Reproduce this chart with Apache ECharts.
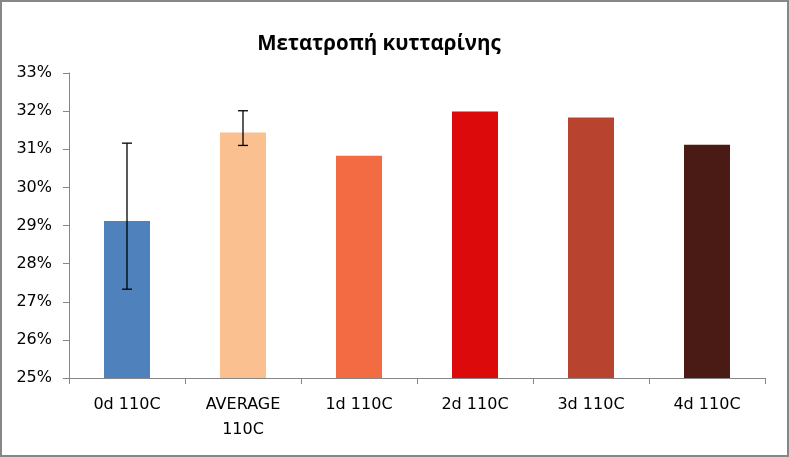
<!DOCTYPE html>
<html>
<head>
<meta charset="utf-8">
<script src="https://cdn.jsdelivr.net/npm/echarts@6/dist/echarts.min.js"></script>
<style>
html,body{margin:0;padding:0;background:#fff;}
#frame{width:789px;height:457px;box-sizing:border-box;border:2px solid #878787;position:relative;background:#fff;}
#chart{position:absolute;left:-2px;top:-2px;width:789px;height:457px;}
</style>
</head>
<body>
<div id="frame"><div id="chart"></div></div>
<script>
const title = 'Μετατροπή κυτταρίνης';
const categories = ['0d 110C', 'AVERAGE\n110C', '1d 110C', '2d 110C', '3d 110C', '4d 110C'];
const values = [29.12, 31.44, 30.83, 31.99, 31.83, 31.12];
const colors = ['#4F81BD', '#FAC090', '#F36B42', '#DC0A0A', '#B8432F', '#4A1B15'];
const errLow = [27.33, 31.10, null, null, null, null];
const errHigh = [31.16, 32.01, null, null, null, null];
const yTicks = [25, 26, 27, 28, 29, 30, 31, 32, 33];

const font = '"DejaVu Sans", sans-serif';
const titleFont = '"Open Sans", sans-serif';
const chart = echarts.init(document.getElementById('chart'));
const errData = [];
categories.forEach((c, i) => { if (errLow[i] != null) errData.push([i, errLow[i], errHigh[i]]); });

chart.setOption({
  animation: false,
  backgroundColor: 'transparent',
  title: {
    text: title, left: 374, top: 29, textAlign: 'center',
    textStyle: {fontFamily: titleFont, fontSize: 20.5, fontWeight: 'bold', color: '#000'}
  },
  grid: {left: 69, right: 24, top: 73, bottom: 79},
  xAxis: {
    type: 'category', data: categories,
    axisLine: {lineStyle: {color: '#868686', width: 1}},
    axisTick: {show: true, length: 6, lineStyle: {color: '#868686'}},
    axisLabel: {fontFamily: font, fontSize: 16, color: '#000', margin: 14, lineHeight: 25}
  },
  yAxis: {
    type: 'value', min: yTicks[0], max: yTicks[yTicks.length - 1], interval: 1,
    axisLine: {show: true, lineStyle: {color: '#868686', width: 1}},
    axisTick: {show: true, length: 6, lineStyle: {color: '#868686'}},
    splitLine: {show: false},
    axisLabel: {fontFamily: font, fontSize: 16, color: '#000', margin: 17, formatter: v => v + '%'}
  },
  series: [
    {
      type: 'bar', barWidth: 46,
      data: values.map((v, i) => ({value: v, itemStyle: {color: colors[i]}}))
    },
    {
      type: 'custom', z: 10,
      data: errData,
      renderItem: function (params, api) {
        const x = api.value(0);
        const lo = api.coord([x, api.value(1)]);
        const hi = api.coord([x, api.value(2)]);
        const hw = 5;
        const st = {stroke: '#000', lineWidth: 1.3};
        return {type: 'group', children: [
          {type: 'line', shape: {x1: lo[0], y1: lo[1], x2: hi[0], y2: hi[1]}, style: st},
          {type: 'line', shape: {x1: lo[0] - hw, y1: lo[1], x2: lo[0] + hw, y2: lo[1]}, style: st},
          {type: 'line', shape: {x1: hi[0] - hw, y1: hi[1], x2: hi[0] + hw, y2: hi[1]}, style: st}
        ]};
      }
    }
  ]
});
</script>
</body>
</html>
